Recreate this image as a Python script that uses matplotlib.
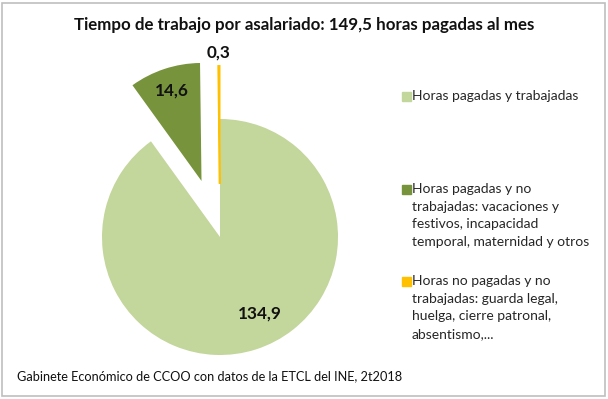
import numpy as np
import matplotlib.pyplot as plt
from matplotlib.patches import Rectangle

plt.rcParams['font.family'] = ['Lato', 'DejaVu Sans']

# datos (horas al mes por asalariado)
valores = [134.9, 14.6, 0.3]
etiquetas_valor = ['134,9', '14,6', '0,3']
leyenda = ['Horas pagadas y trabajadas',
           'Horas pagadas y no\ntrabajadas: vacaciones y\nfestivos, incapacidad\ntemporal, maternidad y otros',
           'Horas no pagadas y no\ntrabajadas: guarda legal,\nhuelga, cierre patronal,\nabsentismo,...']
colores = ['#c3d69b', '#77933c', '#ffc000']
explode = [0, 0.5, 0.45]
titulo = 'Tiempo de trabajo por asalariado: 149,5 horas pagadas al mes'
fuente = 'Gabinete Económico de CCOO con datos de la ETCL del INE, 2t2018'

W, H = 608, 399
fig = plt.figure(figsize=(W / 100, H / 100), dpi=100)

# pie: centro (220, 237) px, radio 118 px
cx, cy, R = 220, H - 237, 118
xl, yl = (-1.5, 1.5), (-1.1, 1.6)
ax = fig.add_axes([(cx + xl[0] * R) / W, (cy + yl[0] * R) / H,
                   (xl[1] - xl[0]) * R / W, (yl[1] - yl[0]) * R / H])
wedges, _ = ax.pie(valores, colors=colores, explode=explode, startangle=90,
                   counterclock=False, radius=1,
                   wedgeprops=dict(linewidth=0))
wedges[2].set_edgecolor(colores[2])
wedges[2].set_linewidth(1.2)
ax.set_xlim(*xl)
ax.set_ylim(*yl)

# etiquetas de datos
radios = [0.73, 0.81, 1.11]
giros = [10, 0, 0]
for w, txt, r, g in zip(wedges, etiquetas_valor, radios, giros):
    ang = np.deg2rad((w.theta1 + w.theta2) / 2 + g)
    x0, y0 = w.center
    ax.text(x0 + r * np.cos(ang), y0 + r * np.sin(ang), txt, ha='center',
            va='center', fontsize=12.3, fontweight='bold', color='#111111')

fig.text(0.5, (H - 25) / H, titulo, ha='center', va='center', fontsize=12.2,
         fontweight='bold', color='#111111')

# leyenda manual
tops = [97, 190, 282]
for t, lab, c in zip(tops, leyenda, colores):
    fig.add_artist(Rectangle((402 / W, (H - t - 4) / H), 9 / W, 9 / H,
                             transform=fig.transFigure, color=c))
    fig.text(412 / W, (H - t + 7) / H, lab, ha='left', va='top', fontsize=10,
             color='#262626', linespacing=1.56)

fig.text(17 / W, (H - 376) / H, fuente, ha='left', va='center', fontsize=9.2,
         color='#111111')

fig.add_artist(Rectangle((2 / W, 3 / H), (W - 5) / W, (H - 6) / H,
                         transform=fig.transFigure, fill=False,
                         edgecolor='#bfbfbf', lw=1.2))

fig.savefig('out.png', dpi=100)
